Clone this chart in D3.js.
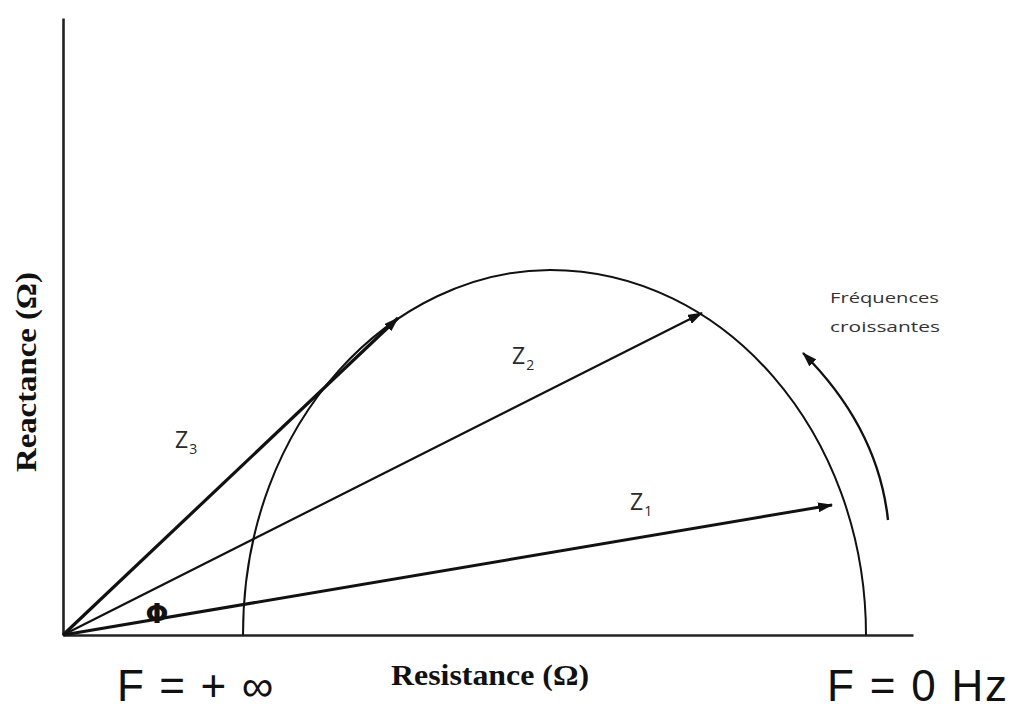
<!DOCTYPE html>
<html lang="fr">
  <head>
    <meta charset="utf-8">
    <title>Impedance</title>
    <script src="https://d3js.org/d3.v7.min.js"></script>
    <style>
      body { margin: 0; background: #fff; }
    </style>
  </head>
  <body>
    <div id="chart"></div>
    <script type="text/javascript">
      // values (arbitrary ohm units)
      var vectorNames = ["Z1", "Z2", "Z3"];
      var vectorRe = [769, 639, 335];   // resistance of each vector tip
      var vectorIm = [130, 322, 317];   // reactance of each vector tip
      var vectorWidth = [3, 2.2, 3.2];
      var labelRe = [567, 449, 112];    // where the Z labels sit
      var labelIm = [125, 271, 187];
      var arcEnds = [180, 803];         // R at F = +inf and F = 0
      var arcPeak = [487, 365];         // top of the arc (R, X)
      var freqArrowRe = [825, 815, 740];  // curved "frequences croissantes" arrow
      var freqArrowIm = [115, 207, 282];

      var width = 1013, height = 711;

      var svg = d3.select('#chart')
        .append('svg')
        .attr('width', width)
        .attr('height', height);

      var x = d3.scaleLinear().domain([0, 850]).range([63, 913]);
      var y = d3.scaleLinear().domain([0, 617]).range([635, 18]);

      // arrow heads
      var defs = svg.append('defs');
      defs.append('marker')
        .attr('id', 'head')
        .attr('markerUnits', 'userSpaceOnUse')
        .attr('viewBox', '0 -5 15 10')
        .attr('refX', 14)
        .attr('refY', 0)
        .attr('markerWidth', 15)
        .attr('markerHeight', 10)
        .attr('orient', 'auto')
        .append('path')
        .attr('d', 'M0,-5L15,0L0,5Z')
        .attr('fill', '#111');

      // axes, no ticks
      svg.append('g')
        .attr('transform', 'translate(0,' + y(0) + ')')
        .call(d3.axisBottom(x).ticks(0).tickSizeOuter(0))
        .select('.domain')
        .attr('stroke', '#222')
        .attr('stroke-width', 2.6);

      svg.append('g')
        .attr('transform', 'translate(' + x(0) + ',0)')
        .call(d3.axisLeft(y).ticks(0).tickSizeOuter(0))
        .select('.domain')
        .attr('stroke', '#222')
        .attr('stroke-width', 2.6);

      // the arc: hand drawn look, left side fuller than the right
      var x0 = x(arcEnds[0]), x1 = x(arcEnds[1]);
      var px = x(arcPeak[0]), py = y(arcPeak[1]), base = y(0);
      var ka = 0.6, kb = 0.5, ke = 0.5523;
      var arc = d3.path();
      arc.moveTo(x0, base);
      arc.bezierCurveTo(x0, base - ka * (base - py),
                        px - kb * (px - x0), py,
                        px, py);
      arc.bezierCurveTo(px + ke * (x1 - px), py,
                        x1, base - ke * (base - py),
                        x1, base);
      svg.append('path')
        .attr('d', arc.toString())
        .attr('fill', 'none')
        .attr('stroke', '#111')
        .attr('stroke-width', 2);

      // impedance vectors
      svg.selectAll('.vec')
        .data(vectorNames)
        .enter()
        .append('line')
          .attr('class', 'vec')
          .attr('x1', x(0))
          .attr('y1', y(0))
          .attr('x2', (d, i) => x(vectorRe[i]))
          .attr('y2', (d, i) => y(vectorIm[i]))
          .attr('stroke', '#111')
          .attr('stroke-width', (d, i) => vectorWidth[i])
          .attr('marker-end', 'url(#head)');

      // Z labels with subscripts
      var lab = svg.selectAll('.zlab')
        .data(vectorNames)
        .enter()
        .append('text')
          .attr('class', 'zlab')
          .attr('x', (d, i) => x(labelRe[i]))
          .attr('y', (d, i) => y(labelIm[i]))
          .style('font-family', 'Open Sans, sans-serif')
          .style('font-size', '23px')
          .attr('fill', '#2a2a2a');
      lab.append('tspan').text('Z');
      lab.append('tspan')
        .attr('dy', 6)
        .attr('dx', 1)
        .style('font-size', '14px')
        .text(d => d.slice(1));

      // phase angle
      svg.append('text')
        .attr('x', 157)
        .attr('y', 623)
        .attr('text-anchor', 'middle')
        .style('font-family', 'DejaVu Sans, sans-serif')
        .style('font-weight', 'bold')
        .style('font-size', '27px')
        .attr('fill', '#111')
        .text('\u03A6');

      // curved frequency arrow
      svg.append('path')
        .attr('d', 'M' + x(freqArrowRe[0]) + ',' + y(freqArrowIm[0]) +
                   ' Q' + x(freqArrowRe[1]) + ',' + y(freqArrowIm[1]) +
                   ' ' + x(freqArrowRe[2]) + ',' + y(freqArrowIm[2]))
        .attr('fill', 'none')
        .attr('stroke', '#111')
        .attr('stroke-width', 2.4)
        .attr('marker-end', 'url(#head)');

      var freq = svg.append('text')
        .style('font-family', 'Open Sans, sans-serif')
        .style('font-size', '15px')
        .attr('fill', '#333');
      freq.append('tspan').attr('x', 830).attr('y', 303)
        .attr('textLength', 109).attr('lengthAdjust', 'spacingAndGlyphs')
        .text('Fréquences');
      freq.append('tspan').attr('x', 830).attr('y', 332)
        .attr('textLength', 110).attr('lengthAdjust', 'spacingAndGlyphs')
        .text('croissantes');

      // axis titles
      svg.append('text')
        .attr('x', 391)
        .attr('y', 685)
        .attr('textLength', 198)
        .attr('lengthAdjust', 'spacingAndGlyphs')
        .style('font-family', 'Liberation Serif, serif')
        .style('font-weight', 'bold')
        .style('font-size', '29px')
        .attr('fill', '#111')
        .text('Resistance (\u03A9)');

      svg.append('text')
        .attr('transform', 'translate(36, 472)rotate(-90)')
        .attr('textLength', 200)
        .attr('lengthAdjust', 'spacingAndGlyphs')
        .style('font-family', 'Liberation Serif, serif')
        .style('font-weight', 'bold')
        .style('font-size', '29px')
        .attr('fill', '#111')
        .text('Reactance (\u03A9)');

      // frequency limits
      svg.append('text')
        .attr('x', 117)
        .attr('y', 701)
        .attr('textLength', 156)
        .attr('lengthAdjust', 'spacing')
        .style('font-family', 'Liberation Sans, Arial, sans-serif')
        .style('font-size', '44px')
        .attr('fill', '#111')
        .text('F = + \u221E');

      svg.append('text')
        .attr('x', 827)
        .attr('y', 701)
        .attr('textLength', 180)
        .attr('lengthAdjust', 'spacing')
        .style('font-family', 'Liberation Sans, Arial, sans-serif')
        .style('font-size', '44px')
        .attr('fill', '#111')
        .text('F = 0 Hz');
    </script>
  </body>
</html>
